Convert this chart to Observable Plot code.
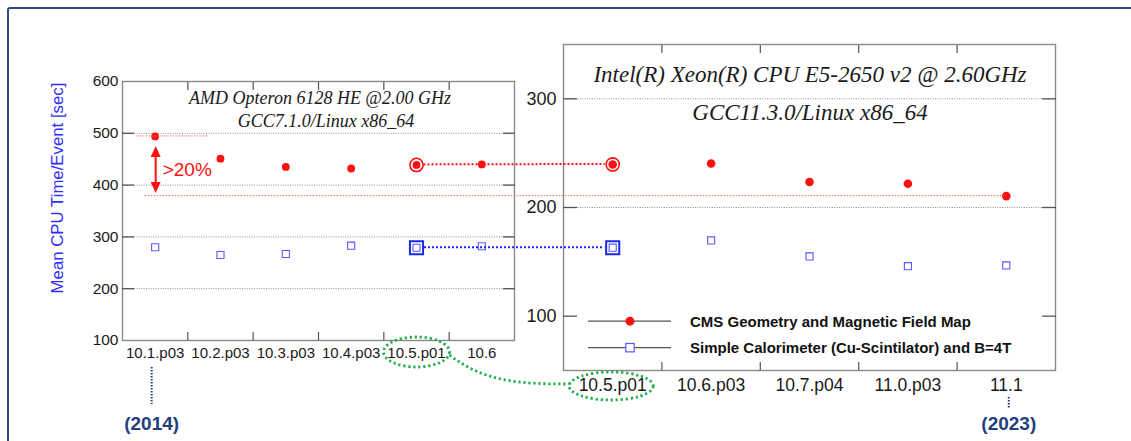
<!DOCTYPE html>
<html><head><meta charset="utf-8">
<script src="https://cdn.jsdelivr.net/npm/d3@7"></script>
<script src="https://cdn.jsdelivr.net/npm/@observablehq/plot@0.6"></script>
<style>
body{margin:0;background:#fff;}
#wrap{position:relative;width:1131px;height:441px;overflow:hidden;background:#fff;}
#border{position:absolute;left:6.5px;top:6.5px;width:1200px;height:500px;border:2px solid #2c4a85;border-radius:3px;box-sizing:border-box;}
.layer{position:absolute;left:0;top:0;}
</style></head><body><div id="wrap"><div id="border"></div></div>
<script>
// ---- data ----
const oldReleases = ["10.1.p03","10.2.p03","10.3.p03","10.4.p03","10.5.p01","10.6"];
const oldCMS  = [494, 451, 435, 432, 439, 440];
const oldCalo = [280, 265, 267, 283, 279, 282];
const newReleases = ["10.5.p01","10.6.p03","10.7.p04","11.0.p03","11.1"];
const newCMS  = [239.6, 240.5, 223.4, 221.8, 210.5];
const newCalo = [163, 169.7, 155, 146, 146.7];
const leftYTicks = [100, 200, 300, 400, 500, 600];
const leftGrid = [200, 300, 400, 500];
const rightYTicks = [100, 200, 300];
const rightGrid = [200, 300];
const leftTitle = ["AMD Opteron 6128 HE @2.00 GHz", "GCC7.1.0/Linux x86_64"];
const rightTitle = ["Intel(R) Xeon(R) CPU E5-2650 v2 @ 2.60GHz", "GCC11.3.0/Linux x86_64"];
const legendLabels = ["CMS Geometry and Magnetic Field Map", "Simple Calorimeter (Cu-Scintilator) and B=4T"];
const yTitle = "Mean CPU Time/Event [sec]";
const years = ["(2014)", "(2023)"];
const gainLabel = ">20%";
const linkRelease = "10.5.p01";

// ---- styles ----
const W = 1131, H = 441;
const FONT = "'Liberation Sans', Arial, Helvetica, sans-serif";
const SERIF = "'Liberation Serif', 'Times New Roman', serif";
const RED = "#ff1010", BLUE = "#5858ff", BLUE2 = "#1a2ae6", GREEN = "#1fae4b", NAVY = "#243f7c";
const FRAME = "#8a8a8a", TICK = "#555", GRID = "#8c8c8c";

const wrap = document.getElementById("wrap");
const iL = oldReleases.indexOf(linkRelease);
const iR = newReleases.indexOf(linkRelease);
const mids = n => d3.range(n - 1).map(i => i + 0.5);

function panel({cats, cms, calo, yDomain, yTicks, grid, margins, yFont, xFont, yPad, xPad, yTick, r, hi}) {
  return Plot.plot({
    width: W, height: H, ...margins,
    style: {background: "transparent", fontFamily: FONT, color: "#1a1a1a"},
    x: {type: "linear", domain: [-0.5, cats.length - 0.5]},
    y: {type: "linear", domain: yDomain},
    marks: [
      Plot.ruleY(grid, {stroke: GRID, strokeWidth: 1, strokeDasharray: "1,1.4"}),
      Plot.frame({stroke: FRAME, strokeWidth: 1.4}),
      Plot.axisY(yTicks, {anchor: "left", tickSize: 0, tickPadding: yPad, fontSize: yFont, label: null}),
      Plot.axisY(yTicks.filter(t => t > yDomain[0] && t < yDomain[1]), {anchor: "left", tickSize: yTick, dx: yTick, tickFormat: () => "", stroke: TICK, strokeWidth: 1.3, label: null}),
      Plot.axisY(yTicks.filter(t => t > yDomain[0] && t < yDomain[1]), {anchor: "right", tickSize: yTick, dx: -yTick, tickFormat: () => "", stroke: TICK, strokeWidth: 1.3, label: null}),
      Plot.axisX(d3.range(cats.length), {anchor: "bottom", tickSize: 0, tickPadding: xPad, tickFormat: i => cats[i], fontSize: xFont, label: null}),
      Plot.axisX(mids(cats.length), {anchor: "bottom", tickSize: 8, dy: -8, tickFormat: () => "", stroke: TICK, strokeWidth: 1.2, label: null}),
      Plot.axisX(mids(cats.length), {anchor: "top", tickSize: 8, dy: 8, tickFormat: () => "", stroke: TICK, strokeWidth: 1.2, label: null}),
      Plot.dot(calo, {x: (d, i) => i, y: d => d, symbol: "square", r: 4, stroke: BLUE, strokeWidth: 1.1, fill: "none"}),
      Plot.dot(cms, {x: (d, i) => i, y: d => d, r: r, fill: RED}),
      Plot.dot([hi], {x: i => i, y: i => cms[i], r: 6.6, stroke: RED, strokeWidth: 1.6, fill: "none"}),
      Plot.dot([hi], {x: i => i, y: i => calo[i], symbol: "square", r: 7.4, stroke: BLUE2, strokeWidth: 2, fill: "none"})
    ]
  });
}

const left = panel({
  cats: oldReleases, cms: oldCMS, calo: oldCalo, yDomain: [100, 600], yTicks: leftYTicks, grid: leftGrid,
  margins: {marginLeft: 122, marginRight: W - 514, marginTop: 81, marginBottom: H - 340},
  yFont: 15.5, xFont: 15, yPad: 4, xPad: 6.5, yTick: 12, r: 3.9, hi: iL
});
const right = panel({
  cats: newReleases, cms: newCMS, calo: newCalo, yDomain: [50, 350], yTicks: rightYTicks, grid: rightGrid,
  margins: {marginLeft: 563, marginRight: W - 1055, marginTop: 44, marginBottom: H - 370},
  yFont: 18, xFont: 17.5, yPad: 7, xPad: 8, yTick: 14, r: 4.3, hi: iR
});
left.classList.add("layer"); right.classList.add("layer");
wrap.appendChild(left); wrap.appendChild(right);

const Lx = v => left.scale("x").apply(v), Ly = v => left.scale("y").apply(v);
const Rx = v => right.scale("x").apply(v), Ry = v => right.scale("y").apply(v);

// ---- annotation overlay ----
const svg = d3.select(wrap).append("svg").attr("class", "layer").attr("width", W).attr("height", H)
  .style("font-family", FONT);

// red reference lines
const refY = Ry(newCMS[newCMS.length - 1]);
svg.append("line").attr("x1", Lx(0) - 10).attr("x2", Rx(newCMS.length - 1)).attr("y1", refY).attr("y2", refY)
  .attr("stroke", "#ff6a6a").attr("stroke-width", 1).attr("stroke-dasharray", "1.5,1.5");
const topY = Ly(oldCMS[0]);
svg.append("line").attr("x1", Lx(0) - 18).attr("x2", Lx(0) + 54).attr("y1", topY).attr("y2", topY)
  .attr("stroke", "#ff6a6a").attr("stroke-width", 1).attr("stroke-dasharray", "1.5,1.5");

// connecting dotted lines
const cy1 = Ly(oldCMS[iL]), cy1b = Ry(newCMS[iR]);
svg.append("line").attr("x1", Lx(iL) + 7.5).attr("x2", Rx(iR) - 7.5).attr("y1", cy1).attr("y2", cy1b)
  .attr("stroke", RED).attr("stroke-width", 2).attr("stroke-dasharray", "2,2");
const cy2 = Ly(oldCalo[iL]), cy2b = Ry(newCalo[iR]);
svg.append("line").attr("x1", Lx(iL) + 8).attr("x2", Rx(iR) - 8).attr("y1", cy2).attr("y2", cy2b)
  .attr("stroke", BLUE2).attr("stroke-width", 2).attr("stroke-dasharray", "2,2");

// double arrow and label
const ax = Lx(0) + 1, aTop = topY + 10, aBot = refY - 2.5;
svg.append("line").attr("x1", ax).attr("x2", ax).attr("y1", aTop + 8).attr("y2", aBot - 8)
  .attr("stroke", RED).attr("stroke-width", 2);
svg.append("path").attr("d", `M${ax},${aTop} L${ax - 5},${aTop + 11} L${ax + 5},${aTop + 11} Z`).attr("fill", RED);
svg.append("path").attr("d", `M${ax},${aBot} L${ax - 5},${aBot - 11} L${ax + 5},${aBot - 11} Z`).attr("fill", RED);
svg.append("text").attr("x", ax + 7).attr("y", (aTop + aBot) / 2 + 6.5).attr("font-size", 19).attr("fill", RED).text(gainLabel);

// panel titles
const lcx = (Lx(-0.5) + Lx(oldReleases.length - 0.5)) / 2 + 2;
const rcx = (Rx(-0.5) + Rx(newReleases.length - 0.5)) / 2 + 1;
[[lcx, 104, leftTitle[0], 18], [lcx + 6, 127, leftTitle[1], 18], [rcx, 81.5, rightTitle[0], 23], [rcx, 120.3, rightTitle[1], 23]]
  .forEach(([x, y, t, s]) => svg.append("text").attr("x", x).attr("y", y).attr("text-anchor", "middle")
    .attr("font-family", SERIF).attr("font-style", "italic").attr("font-size", s).attr("fill", "#1a1a1a").text(t));

// y axis title
svg.append("text").attr("transform", `translate(57,188) rotate(-90)`).attr("dy", "0.36em")
  .attr("text-anchor", "middle").attr("font-size", 16.8).attr("fill", "#2e2eff").text(yTitle);

// legend
const lgX0 = Rx(-0.5) + 25, lgX1 = Rx(-0.5) + 108, lgDot = Rx(-0.5) + 67, lgTxt = Rx(-0.5) + 127;
const rows = [Ry(100) + 5.5, Ry(100) + 32];
rows.forEach((y, k) => {
  svg.append("line").attr("x1", lgX0).attr("x2", lgX1).attr("y1", y).attr("y2", y).attr("stroke", "#555").attr("stroke-width", 1.3);
  if (k === 0) svg.append("circle").attr("cx", lgDot).attr("cy", y).attr("r", 4.5).attr("fill", RED);
  else svg.append("rect").attr("x", lgDot - 4.2).attr("y", y - 4.2).attr("width", 8.4).attr("height", 8.4)
    .attr("fill", "white").attr("stroke", BLUE).attr("stroke-width", 1.2);
  svg.append("text").attr("x", lgTxt).attr("y", y + 5.4).attr("font-size", 15).attr("font-weight", "bold")
    .attr("fill", "#111").text(legendLabels[k]);
});

// green highlight ellipses and connector
const eL = {cx: Lx(iL) + 0.5, cy: Ly(100) + 12, rx: 33, ry: 15};
const eR = {cx: Rx(iR) - 1, cy: Ry(50) + 16, rx: 42, ry: 14};
[eL, eR].forEach(e => svg.append("ellipse").attr("cx", e.cx).attr("cy", e.cy).attr("rx", e.rx).attr("ry", e.ry)
  .attr("fill", "none").attr("stroke", GREEN).attr("stroke-width", 2.8).attr("stroke-dasharray", "2.2,2.8"));
const p0 = [eL.cx + eL.rx, eL.cy + 3], p3 = [eR.cx - eR.rx, eR.cy - 2];
svg.append("path").attr("d", `M${p0[0]},${p0[1]} C${p0[0] + 35},${p0[1] + 27} ${p0[0] + 70},${p3[1]} ${p3[0]},${p3[1]}`)
  .attr("fill", "none").attr("stroke", GREEN).attr("stroke-width", 2.8).attr("stroke-dasharray", "2.2,2.8");

// years
const yx0 = Lx(0) - 3, yx1 = Rx(newReleases.length - 1) + 3;
svg.append("line").attr("x1", yx0).attr("x2", yx0).attr("y1", 367).attr("y2", 404)
  .attr("stroke", NAVY).attr("stroke-width", 2).attr("stroke-dasharray", "1.5,1.5");
svg.append("line").attr("x1", yx1).attr("x2", yx1).attr("y1", 397).attr("y2", 408)
  .attr("stroke", NAVY).attr("stroke-width", 2).attr("stroke-dasharray", "1.5,1.5");
[[yx0, years[0]], [yx1, years[1]]].forEach(([x, t]) => svg.append("text").attr("x", x).attr("y", 429.5)
  .attr("text-anchor", "middle").attr("font-size", 19).attr("font-weight", "bold").attr("fill", NAVY).text(t));
</script></body></html>
